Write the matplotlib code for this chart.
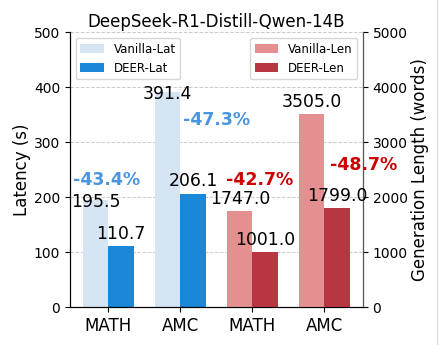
import numpy as np
import matplotlib
matplotlib.use('Agg')
import matplotlib.pyplot as plt
from matplotlib.lines import Line2D

title = 'DeepSeek-R1-Distill-Qwen-14B'
categories = ['MATH', 'AMC', 'MATH', 'AMC']

# latency (s), left axis
vanilla_lat = [195.5, 391.4]
deer_lat = [110.7, 206.1]
# generation length (words), right axis
vanilla_len = [1747.0, 3505.0]
deer_len = [1001.0, 1799.0]

lat_drop = ['-43.4%', '-47.3%']
len_drop = ['-42.7%', '-48.7%']

c_vlat = '#d6e5f4'
c_dlat = '#1a87d9'
c_vlen = '#e48f90'
c_dlen = '#b83642'

fig = plt.figure(figsize=(4.42, 3.45), dpi=100)
ax = fig.add_axes([0.158, 0.110, 0.663, 0.797])
ax2 = ax.twinx()

x = np.arange(len(categories))
w = 0.35
xl = x[:2]
xr = x[2:]

b1 = ax.bar(xl - w / 2, vanilla_lat, w, color=c_vlat, label='Vanilla-Lat', zorder=2)
b2 = ax.bar(xl + w / 2, deer_lat, w, color=c_dlat, label='DEER-Lat', zorder=2)
b3 = ax2.bar(xr - w / 2, vanilla_len, w, color=c_vlen, label='Vanilla-Len', zorder=2)
b4 = ax2.bar(xr + w / 2, deer_len, w, color=c_dlen, label='DEER-Len', zorder=2)

ax.set_ylim(0, 500)
ax2.set_ylim(0, 5000)
ax.set_yticks([0, 100, 200, 300, 400, 500])
ax2.set_yticks([0, 1000, 2000, 3000, 4000, 5000])
ax.set_xticks(x)
ax.set_xticklabels(categories, fontsize=12)
ax.tick_params(axis='y', labelsize=10)
ax2.tick_params(axis='y', labelsize=10)
ax.set_ylabel('Latency (s)', fontsize=12, labelpad=2)
ax2.set_ylabel('Generation Length (words)', fontsize=12, labelpad=2)
ax.set_title(title, fontsize=12, pad=4)
ax.yaxis.grid(True, linestyle='--', color='#cccccc', linewidth=0.7, zorder=0)
ax.set_axisbelow(True)
for a in (ax, ax2):
    a.spines['top'].set_visible(False)
ax2.spines['right'].set_color('#555555')

# value labels
for xi, v in zip(xl - w / 2, vanilla_lat):
    ax.annotate(f'{v:.1f}', (xi, v), xytext=(0, -1.5), textcoords='offset points',
                ha='center', va='center', fontsize=12.4)
for xi, v in zip(xl + w / 2, deer_lat):
    ax.annotate(f'{v:.1f}', (xi, v), xytext=(0, 2.5), textcoords='offset points',
                ha='center', va='bottom', fontsize=12.4)
for xi, v in zip(xr - w / 2, vanilla_len):
    ax2.annotate(f'{v:.1f}', (xi, v), xytext=(0, 2.5), textcoords='offset points',
                 ha='center', va='bottom', fontsize=12.4)
for xi, v in zip(xr + w / 2, deer_len):
    ax2.annotate(f'{v:.1f}', (xi, v), xytext=(0, 2.5), textcoords='offset points',
                 ha='center', va='bottom', fontsize=12.4)

# reduction labels
ax.text(-0.02, 231, lat_drop[0], ha='center', va='center', fontsize=12.5,
        fontweight='bold', color='#4a95e0')
ax.text(1.5, 340, lat_drop[1], ha='center', va='center', fontsize=12.5,
        fontweight='bold', color='#4a95e0')
ax2.text(2.1, 2310, len_drop[0], ha='center', va='center', fontsize=12.5,
         fontweight='bold', color='#cc0000')
ax2.text(3.55, 2580, len_drop[1], ha='center', va='center', fontsize=12.5,
         fontweight='bold', color='#cc0000')

ax.legend(handles=[b1, b2], loc='upper left', fontsize=8.5)
ax2.legend(handles=[b3, b4], loc='upper right', fontsize=8.5)

fig.add_artist(Line2D([0.989, 0.989], [0, 1], color='#dddddd', linewidth=1))

fig.savefig('out.png', dpi=100)
